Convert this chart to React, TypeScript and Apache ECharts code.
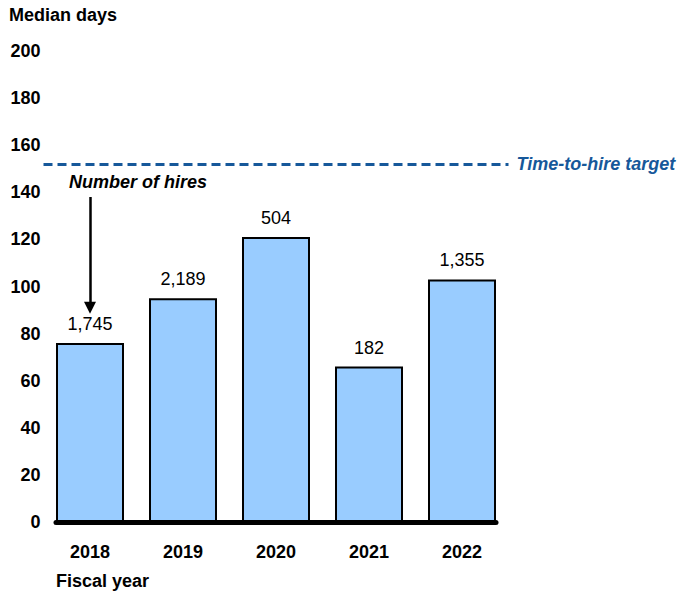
import React, { useEffect, useRef } from "react";
import * as echarts from "echarts";

const years = ["2018", "2019", "2020", "2021", "2022"];
const medianDays = [76, 95, 121, 66, 103];
const hires = [1745, 2189, 504, 182, 1355];
const targetDays = 152;
const yTicks = { min: 0, max: 200, interval: 20 };
const arrowFrom = 138;
const arrowTo = 91;

const FONT = "'Liberation Sans', Arial, sans-serif";
const BLUE = "#16589A";
const FS = 18;

export default function App() {
  const ref = useRef<HTMLDivElement>(null);
  useEffect(() => {
    if (!ref.current) return;
    const chart = echarts.init(ref.current, undefined, { renderer: "svg" });
    chart.setOption({
      animation: false,
      textStyle: { fontFamily: FONT },
      grid: [
        { left: 43.5, right: 682 - 508.5, top: 51, bottom: 74 },
        { left: 56, width: 440, top: 51, bottom: 74 },
      ],
      xAxis: [
        {
          type: "category",
          data: years,
          gridIndex: 0,
          axisLine: { show: false },
          axisTick: { show: false },
          axisLabel: { color: "#000", fontWeight: "bold", fontSize: FS, margin: 21, fontFamily: FONT },
        },
        {
          type: "value",
          gridIndex: 1,
          min: 0,
          max: 1,
          axisLine: { show: true, onZero: false, lineStyle: { color: "#000", width: 5 } },
          axisTick: { show: false },
          axisLabel: { show: false },
          splitLine: { show: false },
        },
      ],
      yAxis: [
        {
          type: "value",
          gridIndex: 0,
          min: yTicks.min,
          max: yTicks.max,
          interval: yTicks.interval,
          axisLine: { show: false },
          axisTick: { show: false },
          splitLine: { show: false },
          axisLabel: { color: "#000", fontWeight: "bold", fontSize: FS, margin: 3, fontFamily: FONT },
        },
        { type: "value", gridIndex: 1, show: false, min: 0, max: 1 },
      ],
      graphic: [
        {
          type: "text",
          left: 9,
          top: 6,
          style: { text: "Median days", font: `bold ${FS}px ${FONT}`, fill: "#000" },
        },
        {
          type: "text",
          left: 56,
          top: 572,
          style: { text: "Fiscal year", font: `bold ${FS}px ${FONT}`, fill: "#000" },
        },
        {
          type: "text",
          left: 69,
          top: 173,
          style: { text: "Number of hires", font: `italic bold ${FS}px ${FONT}`, fill: "#000" },
        },
      ],
      series: [
        {
          type: "bar",
          xAxisIndex: 0,
          yAxisIndex: 0,
          data: medianDays,
          barWidth: 68,
          itemStyle: { color: "#99CCFF", borderColor: "#000", borderWidth: 2 },
          label: {
            show: true,
            position: "top",
            distance: 10,
            color: "#000",
            fontSize: FS,
            fontFamily: FONT,
            formatter: (p: any) => hires[p.dataIndex].toLocaleString("en-US"),
          },
          markLine: {
            silent: true,
            animation: false,
            symbol: ["none", "none"],
            data: [
              {
                yAxis: targetDays,
                lineStyle: { color: BLUE, type: [9, 5], width: 3 },
                label: {
                  show: true,
                  position: "end",
                  distance: 8,
                  formatter: "Time-to-hire target",
                  color: BLUE,
                  fontStyle: "italic",
                  fontWeight: "bold",
                  fontSize: FS,
                  fontFamily: FONT,
                },
              },
              [
                {
                  coord: [years[0], arrowFrom],
                  symbol: "none",
                  lineStyle: { color: "#000", type: "solid", width: 2.5 },
                  label: { show: false },
                },
                { coord: [years[0], arrowTo], symbol: "triangle", symbolSize: [12, 12] },
              ],
            ],
          },
        },
      ],
    });
    return () => chart.dispose();
  }, []);
  return (
    <div
      ref={ref}
      style={{ position: "fixed", left: 0, top: 0, width: 682, height: 596, background: "#fff" }}
    />
  );
}
